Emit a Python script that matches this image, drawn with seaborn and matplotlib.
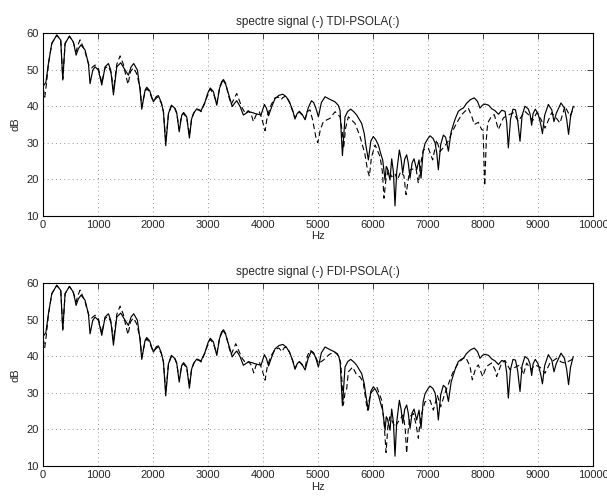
import numpy as np
import pandas as pd
import matplotlib
matplotlib.use("Agg")
import matplotlib.pyplot as plt
import seaborn as sns

# original signal spectrum (solid, same in both panels)
sig_hz = [0, 50, 97, 158, 249, 321, 358, 400, 479, 551, 600, 642, 690, 763, 824, 854,
          903, 945, 1006, 1067, 1127, 1188, 1230, 1279, 1340, 1412, 1491, 1551, 1600,
          1648, 1715, 1764, 1794, 1854, 1885, 1940, 1976, 2006, 2060, 2097, 2150, 2188,
          2230, 2280, 2333, 2400, 2430, 2475, 2520, 2555, 2612, 2660, 2700, 2733, 2794,
          2873, 2945, 3000, 3040, 3097, 3158, 3210, 3270, 3320, 3370, 3440, 3480, 3521,
          3580, 3642, 3733, 3800, 3854, 3963, 4024, 4060, 4100, 4160, 4218, 4290, 4360,
          4420, 4480, 4540, 4580, 4620, 4660, 4710, 4765, 4820, 4880, 4920, 4960, 5006,
          5060, 5127, 5200, 5309, 5370, 5400, 5443, 5490, 5540, 5593, 5650, 5702, 5793,
          5840, 5872, 5915, 5960, 6005, 6050, 6096, 6150, 6175, 6218, 6240, 6260, 6290,
          6308, 6339, 6370, 6399, 6430, 6478, 6510, 6539, 6575, 6611, 6640, 6672, 6710,
          6745, 6793, 6836, 6872, 6910, 6945, 7000, 7036, 7090, 7127, 7160, 7187, 7230,
          7278, 7320, 7370, 7420, 7490, 7550, 7600, 7641, 7700, 7770, 7841, 7900, 7944,
          7990, 8035, 8100, 8160, 8217, 8280, 8340, 8400, 8430, 8460, 8500, 8545, 8590,
          8630, 8672, 8710, 8762, 8820, 8853, 8884, 8910, 8950, 9000, 9050, 9080, 9120,
          9187, 9250, 9290, 9330, 9417, 9480, 9520, 9555, 9590, 9640]
sig_db = [45.5, 46.5, 51.7, 57.2, 59.5, 58.1, 47.2, 57.2, 59.2, 57.6, 54.0, 55.8, 56.8,
          55.4, 51.7, 46.2, 49.9, 50.8, 49.9, 45.8, 50.8, 51.7, 49.9, 43.1, 50.8, 51.9,
          49.9, 48.5, 50.8, 51.7, 49.9, 44.4, 39.2, 44.4, 45.2, 44.2, 42.5, 41.2, 42.7,
          42.9, 41.0, 38.5, 29.2, 38.0, 40.3, 39.4, 38.2, 33.0, 37.5, 38.3, 37.1, 31.3,
          36.5, 38.0, 39.3, 38.8, 41.2, 43.8, 45.0, 44.0, 40.3, 45.0, 47.2, 46.0, 43.5,
          39.9, 40.8, 41.5, 40.0, 37.6, 38.5, 38.3, 38.0, 37.6, 40.5, 39.5, 37.4, 40.0,
          42.1, 43.0, 43.3, 42.6, 41.2, 38.8, 36.5, 38.0, 38.6, 37.8, 36.3, 39.5, 41.5,
          41.0, 39.5, 37.1, 41.0, 42.6, 42.0, 41.2, 40.2, 38.8, 26.5, 37.1, 38.6, 39.2,
          38.5, 37.6, 35.3, 32.5, 29.0, 25.3, 30.5, 31.7, 30.8, 29.4, 26.5, 25.3, 19.8,
          23.5, 23.0, 21.0, 19.8, 25.6, 22.0, 12.7, 22.0, 28.0, 25.5, 21.7, 25.5, 26.7,
          24.5, 20.3, 24.5, 25.6, 22.6, 25.3, 20.3, 27.5, 29.8, 31.2, 31.9, 31.2, 30.0,
          27.0, 22.6, 29.5, 32.1, 31.5, 27.7, 33.0, 36.4, 38.6, 39.2, 39.5, 40.8, 41.8,
          42.3, 41.3, 39.5, 40.3, 40.6, 40.3, 39.3, 38.8, 37.8, 38.9, 38.6, 35.5, 28.6,
          36.5, 39.2, 39.0, 36.0, 30.4, 37.5, 40.0, 39.3, 38.0, 34.8, 38.0, 39.2, 38.0,
          35.0, 32.5, 37.5, 40.5, 39.0, 35.8, 38.0, 40.9, 39.5, 36.5, 32.3, 37.0, 40.0]

# TDI-PSOLA spectrum (dashed, top panel)
tdi_hz = [0, 30, 60, 97, 158, 249, 321, 358, 400, 479, 551, 600, 640, 673, 720, 763, 800,
          840, 880, 945, 1006, 1067, 1127, 1190, 1240, 1280, 1340, 1400, 1460, 1510, 1545,
          1590, 1640, 1700, 1764, 1794, 1854, 1885, 1940, 1976, 2010, 2085, 2150, 2188,
          2230, 2280, 2333, 2400, 2430, 2475, 2520, 2555, 2612, 2660, 2700, 2760, 2830,
          2873, 2945, 3000, 3040, 3097, 3158, 3210, 3270, 3320, 3370, 3420, 3470, 3521,
          3570, 3620, 3680, 3730, 3780, 3824, 3870, 3930, 3970, 4036, 4080, 4150, 4218,
          4280, 4330, 4360, 4420, 4480, 4540, 4580, 4620, 4660, 4710, 4765, 4800, 4854,
          4902, 4960, 4995, 5040, 5096, 5218, 5309, 5400, 5440, 5465, 5500, 5551, 5672,
          5763, 5850, 5900, 5933, 5970, 6036, 6127, 6170, 6199, 6230, 6278, 6339, 6400,
          6442, 6500, 6560, 6600, 6640, 6672, 6781, 6823, 6870, 6914, 7005, 7084, 7157,
          7218, 7309, 7369, 7429, 7520, 7611, 7732, 7793, 7841, 7914, 7975, 8000, 8030,
          8060, 8084, 8156, 8205, 8278, 8369, 8429, 8550, 8641, 8762, 8853, 8900, 8975,
          9050, 9126, 9247, 9320, 9399, 9490, 9580, 9660]
tdi_db = [45.0, 42.5, 46.0, 51.5, 57.2, 59.5, 58.1, 47.5, 57.2, 59.2, 57.4, 55.0, 57.0,
          58.2, 56.5, 55.0, 52.8, 51.0, 50.5, 51.3, 50.3, 46.5, 50.5, 50.9, 49.0, 44.5,
          51.5, 53.8, 51.5, 48.0, 46.0, 49.5, 50.5, 49.0, 45.0, 40.0, 44.0, 44.8, 43.8,
          42.2, 41.5, 42.6, 40.8, 38.6, 30.5, 38.0, 40.0, 39.2, 38.0, 33.8, 37.5, 38.0,
          36.8, 32.0, 36.5, 38.8, 39.0, 38.5, 41.0, 43.5, 44.7, 43.5, 40.8, 45.3, 47.6,
          46.3, 43.0, 40.5, 42.0, 43.5, 41.5, 39.5, 38.0, 38.8, 38.0, 35.8, 37.5, 38.5,
          37.0, 33.3, 37.5, 40.5, 42.3, 42.5, 41.8, 42.4, 42.8, 41.0, 38.6, 36.8, 37.8,
          38.4, 37.6, 36.5, 38.5, 39.0, 36.2, 31.5, 30.0, 33.5, 35.8, 36.7, 38.5, 37.1,
          33.0, 28.5, 34.0, 37.1, 35.3, 31.7, 27.0, 22.5, 20.8, 26.0, 29.4, 26.2, 22.0,
          14.8, 19.5, 22.6, 20.7, 21.5, 19.8, 22.0, 21.0, 15.8, 20.0, 22.6, 23.0, 18.9,
          24.5, 28.0, 28.5, 25.3, 30.8, 27.6, 29.2, 30.5, 32.7, 35.4, 37.7, 39.5, 37.3,
          35.0, 35.6, 33.6, 33.5, 18.2, 31.0, 35.4, 37.3, 37.7, 33.6, 36.8, 37.4, 38.2,
          35.9, 38.6, 37.3, 36.0, 38.2, 36.5, 34.0, 38.2, 37.0, 35.4, 40.0, 37.3, 40.0]

# FDI-PSOLA spectrum (dashed, bottom panel)
fdi_hz = [0, 30, 60, 97, 158, 249, 321, 358, 400, 479, 551, 600, 640, 673, 720, 763, 800,
          840, 880, 945, 1006, 1067, 1127, 1190, 1240, 1280, 1340, 1400, 1460, 1510, 1545,
          1590, 1640, 1700, 1764, 1794, 1854, 1885, 1940, 1976, 2010, 2085, 2150, 2188,
          2230, 2280, 2333, 2400, 2430, 2475, 2520, 2555, 2612, 2660, 2700, 2760, 2830,
          2873, 2945, 3000, 3040, 3097, 3158, 3210, 3270, 3320, 3370, 3420, 3470, 3503,
          3560, 3620, 3680, 3740, 3790, 3830, 3870, 3930, 3980, 4036, 4080, 4150, 4218,
          4290, 4340, 4390, 4440, 4500, 4550, 4585, 4630, 4670, 4720, 4765, 4810, 4854,
          4900, 4945, 5006, 5097, 5200, 5278, 5351, 5412, 5440, 5460, 5490, 5521, 5551,
          5630, 5702, 5763, 5820, 5860, 5896, 5935, 5975, 6066, 6157, 6200, 6236, 6270,
          6308, 6399, 6478, 6551, 6585, 6611, 6640, 6672, 6733, 6780, 6823, 6850, 6884,
          6945, 7036, 7096, 7169, 7230, 7308, 7399, 7460, 7550, 7641, 7684, 7763, 7805,
          7866, 7914, 7993, 8066, 8156, 8217, 8247, 8338, 8399, 8490, 8550, 8672, 8732,
          8793, 8871, 8944, 9040, 9126, 9217, 9338, 9420, 9490, 9611, 9660]
fdi_db = [45.0, 42.5, 46.0, 51.5, 57.2, 59.5, 58.1, 47.5, 57.2, 59.2, 57.4, 55.0, 57.0,
          58.2, 56.5, 55.0, 52.8, 51.0, 50.5, 51.3, 50.3, 46.5, 50.5, 50.9, 49.0, 44.5,
          51.5, 53.8, 51.5, 48.0, 46.0, 49.5, 50.5, 49.0, 45.0, 40.0, 44.0, 44.8, 43.8,
          42.2, 41.5, 42.6, 40.8, 38.6, 30.5, 38.0, 40.0, 39.2, 38.0, 33.8, 37.5, 38.0,
          36.8, 32.0, 36.5, 38.8, 39.0, 38.5, 41.0, 43.5, 44.7, 43.5, 40.8, 45.3, 47.6,
          46.3, 43.0, 40.5, 42.3, 43.5, 41.5, 39.5, 38.3, 38.6, 37.5, 35.5, 37.5, 38.5,
          36.5, 33.5, 37.5, 40.3, 42.0, 42.3, 41.3, 42.5, 42.5, 40.5, 38.3, 36.8, 38.3,
          38.4, 37.5, 37.0, 40.3, 41.7, 41.0, 40.3, 38.1, 39.0, 40.5, 41.2, 40.8, 38.1,
          32.0, 26.7, 30.0, 31.2, 35.8, 37.1, 34.9, 34.4, 33.0, 29.0, 25.3, 28.5, 30.3,
          31.7, 28.0, 22.0, 13.7, 21.0, 23.5, 20.7, 22.6, 24.0, 20.0, 13.5, 20.0, 23.5,
          24.4, 21.5, 17.6, 21.5, 24.4, 27.6, 28.0, 25.3, 29.4, 26.2, 30.0, 33.6, 35.9,
          38.2, 39.5, 39.8, 37.3, 33.6, 36.8, 37.7, 34.5, 37.3, 38.2, 36.4, 34.5, 38.2,
          38.9, 36.4, 36.8, 37.7, 35.0, 38.2, 36.4, 37.7, 37.0, 35.4, 38.2, 39.5, 38.5,
          38.2, 39.1, 40.0]

titles = ["spectre signal (-) TDI-PSOLA(:)", "spectre signal (-) FDI-PSOLA(:)"]
x_ticks = [0, 1000, 2000, 3000, 4000, 5000, 6000, 7000, 8000, 9000, 10000]
y_ticks = [10, 20, 30, 40, 50, 60]

sns.set_style("white")
plt.rcParams["font.family"] = ["Liberation Sans", "DejaVu Sans"]
plt.rcParams["font.size"] = 8

sig = pd.DataFrame({"Hz": sig_hz, "dB": sig_db})
mods = [pd.DataFrame({"Hz": tdi_hz, "dB": tdi_db}),
        pd.DataFrame({"Hz": fdi_hz, "dB": fdi_db})]

fig = plt.figure(figsize=(6.07, 4.96), dpi=100)
boxes = [[0.071, 0.565, 0.906, 0.368], [0.071, 0.0605, 0.906, 0.368]]

for box, title, mod in zip(boxes, titles, mods):
    ax = fig.add_axes(box)
    sns.lineplot(data=sig, x="Hz", y="dB", color="black", lw=0.85,
                 estimator=None, sort=False, ax=ax)
    sns.lineplot(data=mod, x="Hz", y="dB", color="black", lw=0.8,
                 linestyle=(0, (5, 3)), estimator=None, sort=False, ax=ax)
    ax.set_xlim(0, 10000)
    ax.set_ylim(10, 60)
    ax.set_xticks(x_ticks)
    ax.set_yticks(y_ticks)
    ax.grid(True, color="0.45", linestyle=(0, (1, 4)), linewidth=0.6)
    ax.tick_params(direction="in", length=4, width=0.6, top=True, right=True,
                   labelsize=8, pad=3)
    for s in ax.spines.values():
        s.set_linewidth(0.8)
        s.set_color("black")
    ax.set_title(title, fontsize=8.5, pad=6)
    ax.set_xlabel("Hz", fontsize=8, labelpad=1)
    ax.set_ylabel("dB", fontsize=8, labelpad=4)

fig.savefig("out.png", dpi=100)
